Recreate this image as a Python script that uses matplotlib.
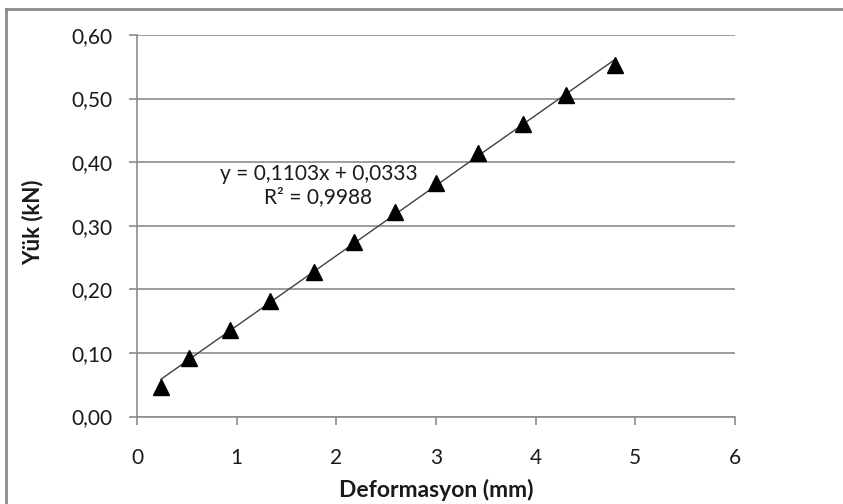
import matplotlib
matplotlib.use("Agg")
import matplotlib.pyplot as plt
import numpy as np
from matplotlib.lines import Line2D

# data
deformasyon = [0.24, 0.52, 0.93, 1.33, 1.78, 2.18, 2.59, 3.00, 3.42, 3.87, 4.30, 4.80]
yuk = [0.047, 0.092, 0.136, 0.182, 0.228, 0.275, 0.322, 0.367, 0.414, 0.460, 0.506, 0.553]
x_ticks = [0, 1, 2, 3, 4, 5, 6]
y_ticks = [0.0, 0.1, 0.2, 0.3, 0.4, 0.5, 0.6]
y_labels = ["0,00", "0,10", "0,20", "0,30", "0,40", "0,50", "0,60"]
eq_text = "y = 0,1103x + 0,0333\nR² = 0,9988"

plt.rcParams['font.family'] = ['Lato', 'DejaVu Sans']
gray = "#8c8c8c"

fig = plt.figure(figsize=(8.43, 5.04), dpi=100)
ax = fig.add_axes([137/843, 1 - 416.5/504, (735 - 137)/843, (416.5 - 35)/504])

x = np.array(deformasyon)
y = np.array(yuk)
slope, icpt = np.polyfit(x, y, 1)
xl = np.array([x.min(), x.max()])
ax.plot(xl, slope*xl + icpt, color="#404040", lw=1.0, zorder=2)
ax.plot(x, y, linestyle="none", marker="^", markersize=11.5, color="black", zorder=3)

ax.set_xlim(0, 6)
ax.set_ylim(0, 0.6)
ax.set_xticks(x_ticks)
ax.set_yticks(y_ticks)
ax.set_yticklabels(y_labels)
ax.grid(axis="y", color=gray, lw=1.2)
ax.set_axisbelow(True)
for s in ["top", "right"]:
    ax.spines[s].set_visible(False)
for s in ["left", "bottom"]:
    ax.spines[s].set_color(gray)
    ax.spines[s].set_linewidth(1.2)
ax.tick_params(axis="x", direction="out", length=6, width=1.2, color=gray, pad=17, labelsize=15, labelcolor="#1a1a1a")
ax.tick_params(axis="y", direction="out", length=5.5, width=1.2, color=gray, pad=12, labelsize=15, labelcolor="#1a1a1a")

ax.text(1.82, 0.363, eq_text, ha="center", va="center", fontsize=15, color="#1a1a1a", linespacing=1.15)

fig.text(436/843, 1 - 490/504, "Deformasyon (mm)", ha="center", va="center", fontsize=16.5, fontweight="bold", color="#1a1a1a")
fig.text(33/843, 1 - 222/504, "Yük (kN)", ha="center", va="center", rotation=90, fontsize=16, fontweight="bold", color="#1a1a1a")

# chart border (only left and top edges fall inside the picture)
fig.add_artist(Line2D([6/843, 6/843], [0, 1 - 9/504], transform=fig.transFigure, color=gray, lw=2))
fig.add_artist(Line2D([6/843, 1], [1 - 9/504, 1 - 9/504], transform=fig.transFigure, color=gray, lw=2))

fig.savefig("out.png", dpi=100)
